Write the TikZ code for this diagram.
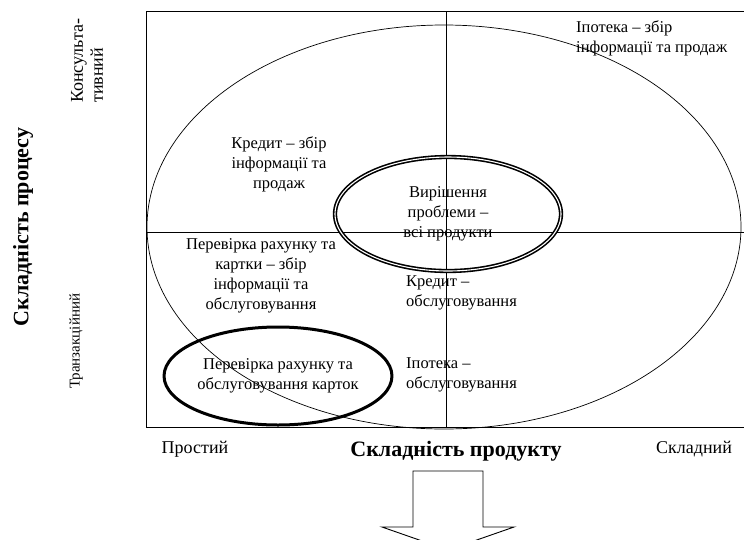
\documentclass[tikz,border=0pt]{standalone}
\usepackage{fontspec}
\setmainfont{Liberation Serif}
\usetikzlibrary{shapes.geometric}
\tikzset{
  txt/.style={font=\fontsize{16.5}{20}\selectfont, inner sep=0pt, align=center},
  lefttxt/.style={txt, align=left, anchor=west},
  axtxt/.style={font=\fontsize{18}{20}\selectfont, inner sep=0pt},
  ttl/.style={font=\fontsize{22}{24}\selectfont\bfseries, inner sep=0pt},
  oval/.style={ellipse, draw, inner sep=0pt},
}
\begin{document}
\begin{tikzpicture}[x=1pt,y=-1pt]
    \useasboundingbox (0,0) rectangle (744,539);
    \clip (0,0) rectangle (744,539);
    \node[draw, line width=1pt, inner sep=0pt, anchor=north west,
          minimum width=600pt, minimum height=416pt] (frame) at (146,11) {};
    \draw[line width=0.9pt] (446,11) -- (446,427);
    \draw[line width=0.9pt] (146,232) -- (746,232);
    \node[oval, line width=0.7pt, minimum width=594pt, minimum height=404pt] (all) at (444,227) {};
    \node[oval, txt, double, line width=1.6pt, double distance=1.1pt,
          minimum width=226pt, minimum height=114pt] (solve) at (448,214)
          {Вирішення\\проблеми --\\всі продукти};
    \node[oval, txt, line width=3pt, minimum width=225pt, minimum height=98pt] (cards) at (278,376)
          {Перевірка рахунку та\\обслуговування карток};
    \node[lefttxt] (mortsale) at (576,38) {Іпотека -- збір\\інформації та продаж};
    \node[txt] (credsale) at (279,164) {Кредит -- збір\\інформації та\\продаж};
    \node[txt] (checksale) at (261,276) {Перевірка рахунку та\\картки -- збір\\інформації та\\обслуговування};
    \node[lefttxt] (credserv) at (406,293) {Кредит --\\обслуговування};
    \node[lefttxt] (mortserv) at (406,375) {Іпотека --\\обслуговування};
    \node[axtxt] (simple) at (195,449) {Простий};
    \node[axtxt] (complex) at (694,449) {Складний};
    \node[ttl] (prod) at (456,451) {Складність продукту};
    \node[ttl, rotate=90] (proc) at (23,227) {Складність процесу};
    \node[axtxt, align=left, anchor=west, rotate=90] (consult) at (87,103) {Консульта-\\тивний};
    \node[txt, font=\fontsize{15}{20}\selectfont, anchor=west, rotate=90] (trans) at (76,389) {Транзакційний};
    \draw[line width=0.9pt, line join=miter]
        (413,471) -- (483,471) -- (483,527) -- (514,527) -- (448,550)
        -- (382,527) -- (413,527) -- cycle;
\end{tikzpicture}
\end{document}
